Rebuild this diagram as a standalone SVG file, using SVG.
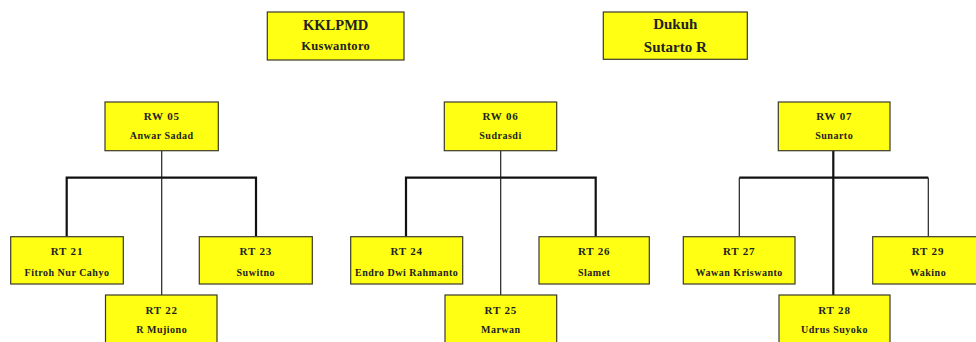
<svg xmlns="http://www.w3.org/2000/svg" width="976" height="342" viewBox="0 0 976 342">
<style>
.box{fill:#ffff14;stroke:#3a3a2a;stroke-width:1.2}
text{font-family:"Liberation Serif","Times New Roman",serif;font-weight:bold;fill:#222;text-anchor:middle}
.k1{font-size:14.5px}
.k2{font-size:12.5px;letter-spacing:0.3px}
.d{font-size:15px}
.h{font-size:11px;letter-spacing:0.8px}
.s{font-size:10px;letter-spacing:0.5px}
.thick{stroke:#111;stroke-width:2.2;fill:none}
.thin{stroke:#222;stroke-width:1.2;fill:none}
</style>
<rect width="976" height="342" fill="#fff"/>
<g id="connectors">
<path class="thin" d="M161.7 150.7V177.7"/>
<path class="thick" d="M66.7 236.7V177.7H256V236.7"/>
<path class="thin" d="M161.7 177.7V295"/>
<path class="thin" d="M500.7 150.7V177.7"/>
<path class="thick" d="M406 236.7V177.7H595.7V236.7"/>
<path class="thin" d="M500.7 177.7V295"/>
<path class="thick" d="M833.3 150.7V177.7"/>
<path class="thin" d="M739.3 236.7V177.7"/>
<path class="thick" d="M739.3 177.7H928.3"/>
<path class="thin" d="M928.3 177.7V236.7"/>
<path class="thick" d="M833.3 177.7V295"/>
</g>
<g id="kklpmd"><rect class="box" x="267.3" y="12" width="136.7" height="48"/><text class="k1" x="335.7" y="29.5">KKLPMD</text><text class="k2" x="335.7" y="50">Kuswantoro</text></g>
<g id="dukuh"><rect class="box" x="603.3" y="12" width="144" height="47.3"/><text class="d" x="675.3" y="29">Dukuh</text><text class="d" x="675.3" y="51.5">Sutarto R</text></g>
<g id="rw05"><rect class="box" x="105" y="102" width="113.3" height="48.7"/><text class="h" x="161.7" y="120">RW 05</text><text class="s" x="161.7" y="139.3">Anwar Sadad</text></g>
<g id="rw06"><rect class="box" x="444.3" y="102" width="112.4" height="48.7"/><text class="h" x="500.5" y="120">RW 06</text><text class="s" x="500.5" y="139.3">Sudrasdi</text></g>
<g id="rw07"><rect class="box" x="778.3" y="102" width="111.7" height="48.7"/><text class="h" x="834.2" y="120">RW 07</text><text class="s" x="834.2" y="139.3">Sunarto</text></g>
<g id="rt21"><rect class="box" x="10.7" y="236.7" width="112.6" height="47.3"/><text class="h" x="67" y="254.5">RT 21</text><text class="s" x="67" y="275.5">Fitroh Nur Cahyo</text></g>
<g id="rt22"><rect class="box" x="105.5" y="295" width="111.5" height="50"/><text class="h" x="161.7" y="314">RT 22</text><text class="s" x="161.7" y="333">R Mujiono</text></g>
<g id="rt23"><rect class="box" x="199.3" y="236.7" width="113" height="47.3"/><text class="h" x="255.8" y="254.5">RT 23</text><text class="s" x="255.8" y="275.5">Suwitno</text></g>
<g id="rt24"><rect class="box" x="350.7" y="236.7" width="112" height="47.3"/><text class="h" x="406.7" y="254.5">RT 24</text><text class="s" x="406.7" y="275.5">Endro Dwi Rahmanto</text></g>
<g id="rt25"><rect class="box" x="445" y="295" width="111.7" height="50"/><text class="h" x="500.8" y="314">RT 25</text><text class="s" x="500.8" y="333">Marwan</text></g>
<g id="rt26"><rect class="box" x="539" y="236.7" width="110.3" height="47.3"/><text class="h" x="594.2" y="254.5">RT 26</text><text class="s" x="594.2" y="275.5">Slamet</text></g>
<g id="rt27"><rect class="box" x="683.3" y="236.7" width="111.7" height="47.3"/><text class="h" x="739.2" y="254.5">RT 27</text><text class="s" x="739.2" y="275.5">Wawan Kriswanto</text></g>
<g id="rt28"><rect class="box" x="779" y="295" width="111" height="50"/><text class="h" x="834.5" y="314">RT 28</text><text class="s" x="834.5" y="333">Udrus Suyoko</text></g>
<g id="rt29"><rect class="box" x="872.7" y="236.7" width="104" height="47.3"/><text class="h" x="928" y="254.5">RT 29</text><text class="s" x="928" y="275.5">Wakino</text></g>
</svg>
